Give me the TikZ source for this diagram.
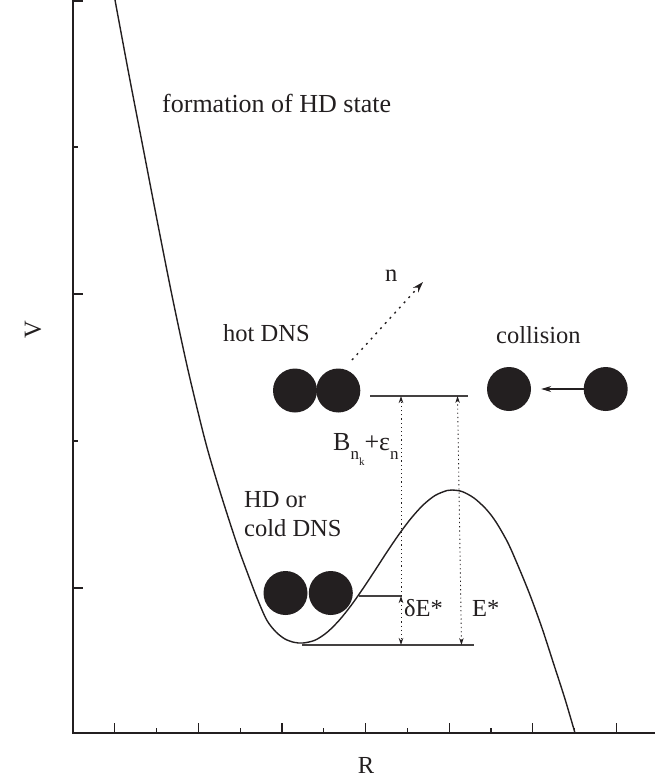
\documentclass[tikz,border=0pt]{standalone}
\usepackage{fontspec}
\setmainfont{Liberation Serif}
\usetikzlibrary{arrows.meta}
\definecolor{ink}{RGB}{35,31,32}
\begin{document}
\begin{tikzpicture}[x=1pt,y=-1pt,
  axisline/.style={draw=ink,line width=1.7pt},
  tickline/.style={draw=ink,line width=1.2pt},
  curve/.style={draw=ink,line width=1.4pt},
  level/.style={draw=ink!85,line width=1.4pt},
  ball/.style={circle,fill=ink,draw=none,minimum size=44pt,inner sep=0pt},
  lbl/.style={inner sep=0pt,text=ink,font=\fontsize{24.5}{28}\selectfont},
  dotarrow/.style={draw=ink,line width=0.9pt,dash pattern=on 1.2pt off 3pt},
]
\useasboundingbox (0,0) rectangle (655,780);

% axes
\draw[axisline] (73,0) -- (73,733) -- (655,733);
\draw[tickline] (73,1) -- (83,1);
\foreach \yy/\len in {147/5,294/10,441/5,588/10}
  \draw[tickline] (73,\yy) -- ++(\len,0);
\foreach \k in {1,...,13}{
  \pgfmathsetmacro{\xx}{73+41.8*\k}
  \pgfmathsetmacro{\len}{isodd(\k)?10:5}
  \draw[tickline] (\xx,733) -- ++(0,-\len);
}
\node[lbl,rotate=90] (Vlab) at (33,330) {V};
\node[lbl] (Rlab) at (366,765) {R};

% potential curve
\draw[curve] plot[smooth,tension=0.5] coordinates {
  (115,0) (129,75) (143.5,150) (158,225) (172.5,298) (188,370) (205,440)
  (218,485) (230,523) (239,550) (247.5,573) (257,598) (266.7,620) (276,632)
  (285,639) (294,642.3) (303,643)
  (315,640.2) (327,632.4) (339,620.5) (351,605.6) (363,588.5) (375,570.4)
  (387,551.9) (399,534.3) (411,518.4) (423,505.1) (435,495.5) (447,490.5) (452,490)
  (462,491.5) (474,498) (486,509) (496,522) (508,543) (519,568) (530,595)
  (542,628) (553.7,664) (565,699) (575,733)};

% texts
\node[lbl,anchor=west,font=\fontsize{26}{28}\selectfont] (form) at (162,103) {formation of HD state};
\node[lbl,anchor=west] (hot) at (223,333) {hot DNS};
\node[lbl,anchor=west] (coll) at (496,335) {collision};
\node[lbl,anchor=west] (hd1) at (244,500) {HD or};
\node[lbl,anchor=west] (hd2) at (244,528) {cold DNS};
\node[lbl,anchor=west] (nlab) at (385,276) {n};
\node[lbl,anchor=base west] (Blab) at (333,450) {{\fontsize{26}{28}\selectfont B}\raisebox{-9pt}{\fontsize{17}{17}\selectfont n\raisebox{-6pt}{\fontsize{11}{11}\selectfont k}}{\fontsize{26}{28}\selectfont +ε}\raisebox{-9pt}{\fontsize{17}{17}\selectfont n}};
\node[lbl,anchor=west] (dE) at (404,608) {δE*};
\node[lbl,anchor=west] (E) at (472,608) {E*};

% balls
\node[ball] (h1) at (295,390.5) {};
\node[ball] (h2) at (338.3,390.5) {};
\node[ball] (c1) at (285.5,593) {};
\node[ball] (c2) at (330.8,593) {};
\node[ball] (k1) at (509,389) {};
\node[ball] (k2) at (605.7,389) {};

% levels
\coordinate (topL) at (370,396);
\coordinate (topR) at (467.5,396);
\coordinate (midL) at (358.5,596);
\coordinate (midR) at (402,596);
\coordinate (botL) at (302,645);
\coordinate (botR) at (474,645);
\draw[level] (topL) -- (topR);
\draw[level] (midL) -- (midR);
\draw[level] (botL) -- (botR);

% vertical energy arrows
\coordinate (a1top) at (401,396);
\coordinate (a1mid) at (401,596);
\coordinate (a1bot) at (401,645);
\coordinate (a2top) at (457.5,396);
\coordinate (a2bot) at (461.5,645);
\draw[dotarrow,-{Stealth[length=7pt,width=4.5pt]}] (a1mid) -- (a1top);
\draw[dotarrow,{Stealth[length=7pt,width=4.5pt]}-{Stealth[length=7pt,width=4.5pt]}] (a1mid) -- (a1bot);
\draw[dotarrow,{Stealth[length=7pt,width=4.5pt]}-{Stealth[length=7pt,width=4.5pt]}] (a2bot) -- (a2top);

% neutron emission
\coordinate (nstart) at (352,360);
\coordinate (nend) at (423,282);
\draw[draw=ink,line width=1.4pt,dash pattern=on 2pt off 5pt,-{Stealth[length=11pt,width=7pt]}] (nstart) -- (nend);

% collision arrow
\draw[draw=ink,line width=1.2pt,-{Stealth[length=10pt,width=6pt]},shorten >=10pt] (k2.west) -- (k1.east);
\end{tikzpicture}
\end{document}
